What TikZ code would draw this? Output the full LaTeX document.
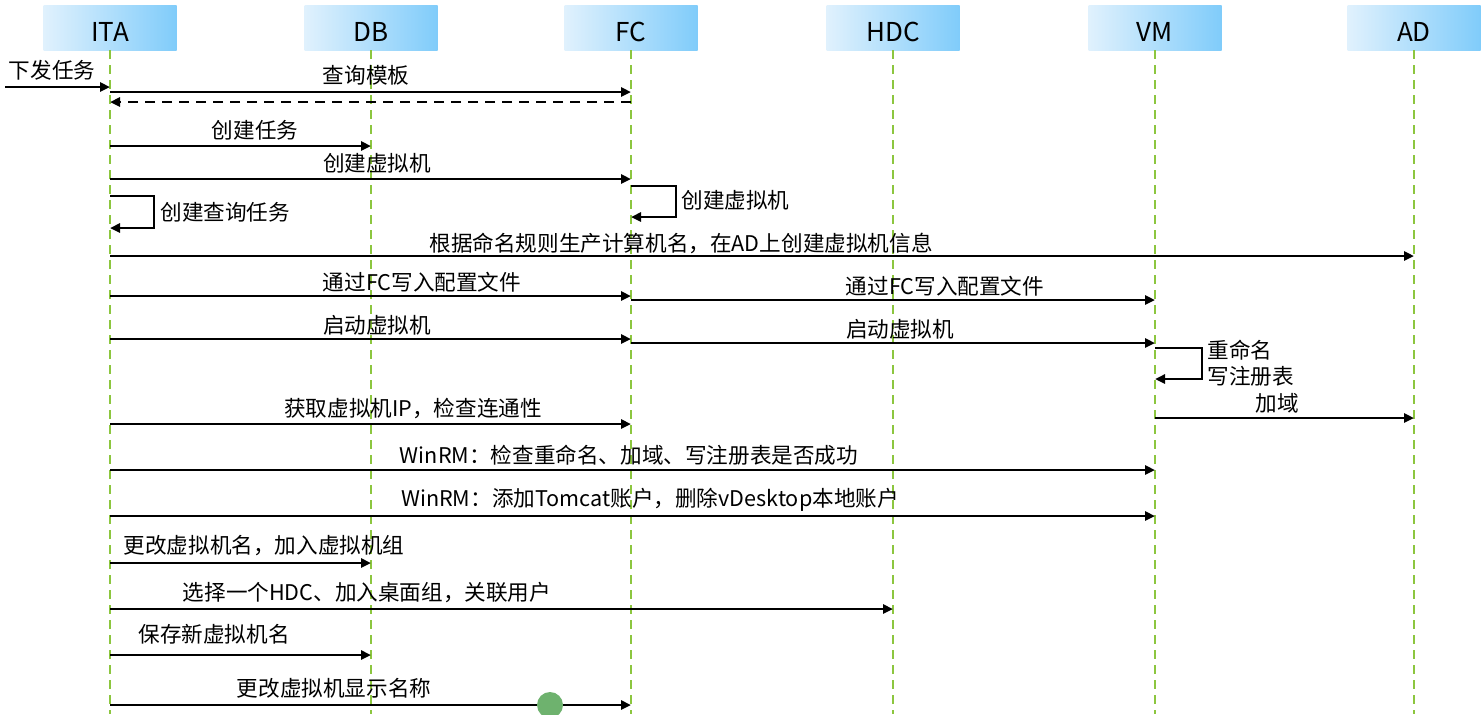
\documentclass[tikz,border=0pt]{standalone}
\usepackage{fontspec}
\setmainfont{Noto Sans CJK SC}
\usetikzlibrary{arrows.meta}
\definecolor{life}{RGB}{140,198,63}
\definecolor{hdl}{RGB}{224,241,253}
\definecolor{hdrc}{RGB}{128,204,250}
\definecolor{dot}{RGB}{110,178,110}
\newcommand\hdtext[1]{\raisebox{-7pt}[0pt][0pt]{#1}}
\begin{document}
\begin{tikzpicture}[x=0.5pt,y=-0.5pt,
  hdr/.style={minimum width=66.5pt,minimum height=22.5pt,inner sep=0pt,left color=hdl,right color=hdrc,font=\fontsize{13}{15}\selectfont},
  lifeline/.style={life,line width=1pt,dash pattern=on 4.5pt off 3pt},
  msg/.style={line width=1.25pt,-{Triangle[length=5pt,width=4.5pt]}},
  ret/.style={msg,dash pattern=on 5pt off 3.5pt},
  lbl/.style={inner sep=0pt,font=\fontsize{10.8}{13}\selectfont}]
\useasboundingbox (0,0) rectangle (1483,714);
% headers
\node[hdr] (ITA) at (110,27.5) {\hdtext{ITA}};
\node[hdr] (DB)  at (371,27.5) {\hdtext{DB}};
\node[hdr] (FC)  at (631,27.5) {\hdtext{FC}};
\node[hdr] (HDC) at (893,27.5) {\hdtext{HDC}};
\node[hdr] (VM)  at (1155,27.5) {\hdtext{VM}};
\node[hdr] (AD)  at (1414,27.5) {\hdtext{AD}};
% lifelines
\foreach \n in {ITA,DB,FC,HDC,VM,AD}
  \draw[lifeline] (\n.south) -- (\n |- 0,714);
% messages
\coordinate (src) at (5,87);
\draw[msg] (src) -- (ITA |- 0,87);
\node[lbl] (l1) at (52,70) {下发任务};

\draw[msg] (ITA |- 0,92) -- (FC |- 0,92);
\node[lbl] (l2) at (366,75) {查询模板};
\draw[ret] (FC |- 0,102) -- (ITA |- 0,102);

\draw[msg] (ITA |- 0,146) -- (DB |- 0,146);
\node[lbl] (l3) at (255,130) {创建任务};

\draw[msg] (ITA |- 0,179) -- (FC |- 0,179);
\node[lbl] (l4) at (377,163) {创建虚拟机};

\draw[msg] (ITA |- 0,196) -- (154,196) -- (154,228) -- (ITA |- 0,228);
\node[lbl,anchor=west] (l5) at (160,212) {创建查询任务};

\draw[msg] (FC |- 0,186) -- (676,186) -- (676,217) -- (FC |- 0,217);
\node[lbl,anchor=west] (l6) at (681,200) {创建虚拟机};

\draw[msg] (ITA |- 0,256) -- (AD |- 0,256);
\node[lbl] (l7) at (681,243) {根据命名规则生产计算机名，在AD上创建虚拟机信息};

\draw[msg] (ITA |- 0,296) -- (FC |- 0,296);
\node[lbl] (l8) at (422,282) {通过FC写入配置文件};
\draw[msg] (FC |- 0,300) -- (VM |- 0,300);
\node[lbl] (l9) at (945,286) {通过FC写入配置文件};

\draw[msg] (ITA |- 0,339) -- (FC |- 0,339);
\node[lbl] (l10) at (377,325) {启动虚拟机};
\draw[msg] (FC |- 0,343) -- (VM |- 0,343);
\node[lbl] (l11) at (900,329) {启动虚拟机};

\draw[msg] (VM |- 0,348) -- (1202,348) -- (1202,379) -- (VM |- 0,379);
\node[lbl,anchor=west] (l12) at (1207,350) {重命名};
\node[lbl,anchor=west] (l13) at (1207,376) {写注册表};

\draw[msg] (VM |- 0,418) -- (AD |- 0,418);
\node[lbl] (l14) at (1277,403) {加域};

\draw[msg] (ITA |- 0,424) -- (FC |- 0,424);
\node[lbl] (l15) at (413,408) {获取虚拟机IP，检查连通性};

\draw[msg] (ITA |- 0,470) -- (VM |- 0,470);
\node[lbl] (l16) at (629,455) {WinRM：检查重命名、加域、写注册表是否成功};

\draw[msg] (ITA |- 0,516) -- (VM |- 0,516);
\node[lbl] (l17) at (650,500) {WinRM：添加Tomcat账户，删除vDesktop本地账户};

\draw[msg] (ITA |- 0,563) -- (DB |- 0,563);
\node[lbl] (l18) at (264,546) {更改虚拟机名，加入虚拟机组};

\draw[msg] (ITA |- 0,609) -- (HDC |- 0,609);
\node[lbl] (l19) at (367,593) {选择一个HDC、加入桌面组，关联用户};

\draw[msg] (ITA |- 0,655) -- (DB |- 0,655);
\node[lbl] (l20) at (214,634) {保存新虚拟机名};

\draw[msg] (ITA |- 0,705) -- (FC |- 0,705);
\node[lbl] (l21) at (334,688) {更改虚拟机显示名称};

\fill[dot] (550,705) circle (6.5pt);
\end{tikzpicture}
\end{document}
